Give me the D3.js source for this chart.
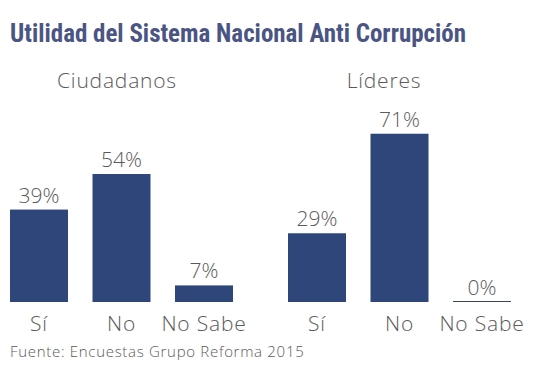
<!DOCTYPE html>
<html>
<head>
<meta charset="utf-8">
<script src="https://cdn.jsdelivr.net/npm/d3@7"></script>
<style>
  html, body { margin: 0; padding: 0; background: #fff; }
  svg { display: block; }
</style>
</head>
<body>
<svg id="chart" width="543" height="372"></svg>
<script>
const title = "Utilidad del Sistema Nacional Anti Corrupción";
const source = "Fuente: Encuestas Grupo Reforma 2015";
const categories = ["Sí", "No", "No Sabe"];
const groups = ["Ciudadanos", "Líderes"];
const ciudadanos = [39, 54, 7];
const lideres = [29, 71, 0];

const seriesValues = [ciudadanos, lideres];
const barColor = "#2e4679";
const textColor = "#5a5a5a";
const lightFont = "'Open Sans', Lato, sans-serif";

const svg = d3.select("#chart");

const y = d3.scaleLinear().domain([0, 100]).range([302, 65]);

const groupRanges = [[10, 233], [288, 511]];
const groupTitleX = [117, 384];

svg.append("text")
  .attr("x", 10).attr("y", 42)
  .attr("textLength", 456).attr("lengthAdjust", "spacingAndGlyphs")
  .style("font-family", "'Liberation Sans Narrow', 'Roboto Condensed', sans-serif")
  .style("font-weight", "bold")
  .style("font-size", "26px")
  .style("fill", "#4a5583")
  .text(title);

groups.forEach((g, gi) => {
  const x = d3.scaleBand().domain(categories).range(groupRanges[gi])
    .paddingInner(0.297).paddingOuter(0);
  const data = categories.map((c, i) => ({ c, v: seriesValues[gi][i] }));
  const gEl = svg.append("g");

  gEl.append("text")
    .attr("x", groupTitleX[gi]).attr("y", 88)
    .attr("text-anchor", "middle")
    .style("font-family", lightFont).style("font-weight", 300)
    .style("font-size", "21px").style("letter-spacing", "0.8px")
    .style("fill", textColor)
    .text(g);

  gEl.selectAll("rect.bar").data(data).join("rect")
    .attr("class", "bar")
    .attr("x", d => x(d.c))
    .attr("width", x.bandwidth())
    .attr("y", d => d.v > 0 ? y(d.v) : y(0) - 1)
    .attr("height", d => d.v > 0 ? y(0) - y(d.v) : 1)
    .attr("fill", d => d.v > 0 ? barColor : "#3a4560");

  gEl.selectAll("text.val").data(data).join("text")
    .attr("class", "val")
    .attr("x", d => x(d.c) + x.bandwidth() / 2)
    .attr("y", d => y(d.v) - 7)
    .attr("text-anchor", "middle")
    .style("font-family", lightFont).style("font-weight", 300)
    .style("font-size", "21px").style("fill", textColor)
    .text(d => d.v + "%");

  gEl.selectAll("text.cat").data(data).join("text")
    .attr("class", "cat")
    .attr("x", d => x(d.c) + x.bandwidth() / 2)
    .attr("y", 331)
    .attr("text-anchor", "middle")
    .style("font-family", lightFont).style("font-weight", 300)
    .style("font-size", "21px").style("letter-spacing", "0.8px")
    .style("fill", textColor)
    .text(d => d.c);
});

svg.append("text")
  .attr("x", 10).attr("y", 357)
  .style("font-family", lightFont).style("font-weight", 300)
  .style("font-size", "15px").style("letter-spacing", "0.7px")
  .style("fill", textColor)
  .text(source);
</script>
</body>
</html>
